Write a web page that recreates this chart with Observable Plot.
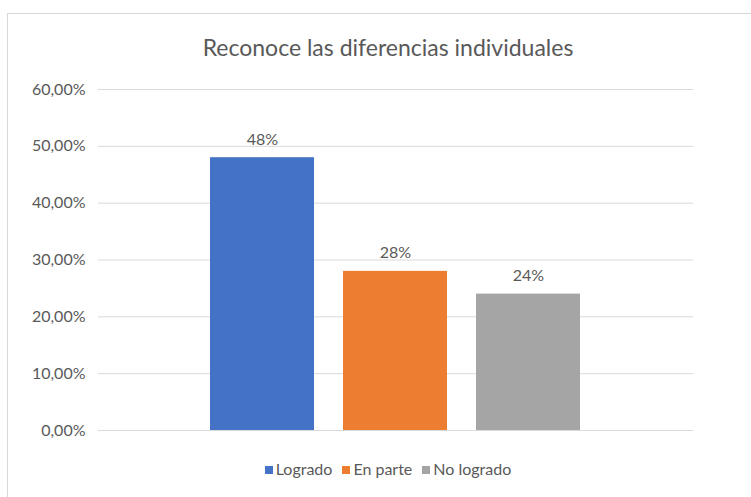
<!DOCTYPE html>
<html>
<head>
<meta charset="utf-8">
<script src="https://cdn.jsdelivr.net/npm/d3@7"></script>
<script src="https://cdn.jsdelivr.net/npm/@observablehq/plot@0.6"></script>
<style>
  html, body { margin: 0; padding: 0; background: #fff; width: 751px; height: 497px; overflow: hidden; font-family: Lato, "Open Sans", sans-serif; }
  #frame { position: absolute; left: 7px; top: 13px; width: 800px; height: 500px; border: 1px solid #d9d9d9; box-sizing: border-box; }
  #title { position: absolute; left: 0; width: 776px; top: 33px; line-height: 28px; text-align: center; font-size: 23px; color: #595959; }
  #chart { position: absolute; left: 0; top: 70px; }
  #legend { position: absolute; left: 0; width: 776px; top: 459px; line-height: 20px; text-align: center; font-size: 16px; color: #595959; }
  #legend span.item { margin: 0 5px; white-space: nowrap; }
  #legend span.sw { display: inline-block; width: 8px; height: 8px; margin-right: 3px; vertical-align: 1px; }
</style>
</head>
<body>
<div id="frame"></div>
<div id="title"></div>
<div id="chart"></div>
<div id="legend"></div>
<script>
const titleText = "Reconoce las diferencias individuales";
const categories = ["Logrado", "En parte", "No logrado"];
const values = [0.48, 0.28, 0.24];
const colors = ["#4472C4", "#ED7D31", "#A5A5A5"];
const yTicks = [0, 0.1, 0.2, 0.3, 0.4, 0.5, 0.6];

const data = categories.map((c, i) => ({category: c, value: values[i]}));
const fmtTick = v => d3.format(".2%")(v).replace(".", ",");
const fmtLabel = v => d3.format(".0%")(v);

document.getElementById("title").textContent = titleText;

const chart = Plot.plot({
  width: 751,
  height: 380,
  marginTop: 19,
  marginBottom: 20,
  marginLeft: 98,
  marginRight: 58,
  style: {fontFamily: "Lato, 'Open Sans', sans-serif", background: "transparent"},
  x: {domain: categories, paddingInner: 0.217, paddingOuter: 0.837, axis: null},
  y: {domain: [0, 0.6], ticks: yTicks, tickFormat: fmtTick, label: null},
  color: {domain: categories, range: colors},
  marks: [
    Plot.ruleY(yTicks, {stroke: "#d9d9d9", strokeWidth: 1}),
    Plot.axisY({ticks: yTicks, tickFormat: fmtTick, tickSize: 0, tickPadding: 13, fontSize: 16, fill: "#595959", label: null}),
    Plot.barY(data, {x: "category", y: "value", fill: "category"}),
    Plot.text(data, {x: "category", y: "value", text: d => fmtLabel(d.value), dy: -13, lineAnchor: "bottom", fontSize: 16, fill: "#595959"})
  ]
});
document.getElementById("chart").appendChild(chart);

const legend = document.getElementById("legend");
categories.forEach((c, i) => {
  const item = document.createElement("span");
  item.className = "item";
  const sw = document.createElement("span");
  sw.className = "sw";
  sw.style.background = colors[i];
  item.appendChild(sw);
  item.appendChild(document.createTextNode(c));
  legend.appendChild(item);
});
</script>
</body>
</html>
